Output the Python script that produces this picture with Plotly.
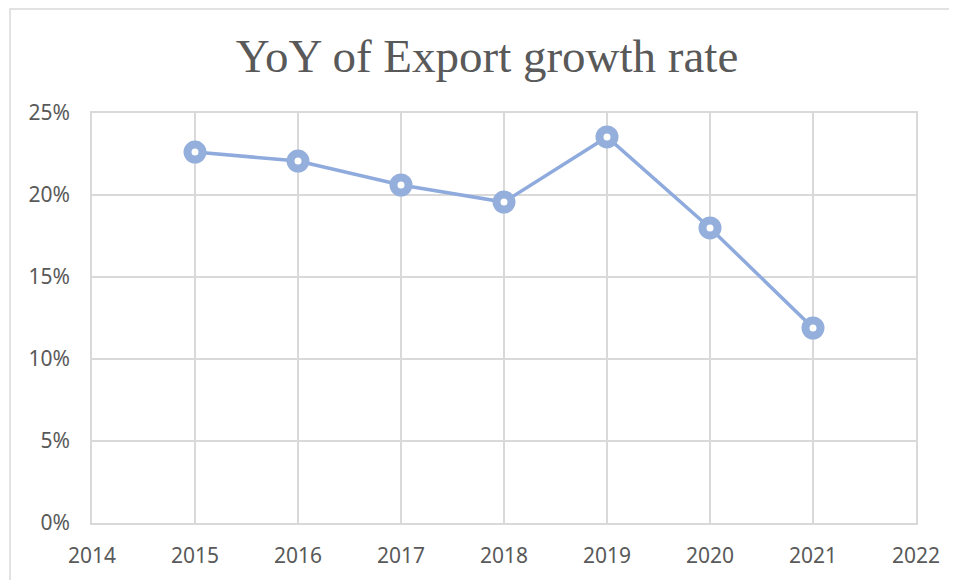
import plotly.graph_objects as go

years = [2015, 2016, 2017, 2018, 2019, 2020, 2021]
yoy_growth = [0.2262, 0.2207, 0.2061, 0.1957, 0.2354, 0.1799, 0.1189]
x_ticks = [2014, 2015, 2016, 2017, 2018, 2019, 2020, 2021, 2022]
y_ticks = [0, 0.05, 0.10, 0.15, 0.20, 0.25]

# page body adds an 8px offset, so the figure is sized to fit the window
W, H = 949, 572
L, R, T, B = 84, 41, 105, 57

fig = go.Figure()

# line with thick ring markers (Excel style)
fig.add_trace(go.Scatter(
    x=years, y=yoy_growth, mode='lines+markers',
    line=dict(color='#8FAADC', width=3.5),
    marker=dict(symbol='circle', size=15, color='white',
                line=dict(color='#94AFDB', width=8)),
    showlegend=False,
))

# chart area border (left and top edges only show in the window)
fig.add_shape(type='rect', xref='paper', yref='paper',
              x0=(2 - L) / (W - L - R), x1=(W + 200 - L) / (W - L - R),
              y0=-(B + 200) / (H - T - B), y1=(H - B - 1) / (H - T - B),
              line=dict(color='#D9D9D9', width=1.5), layer='below')

fig.update_layout(
    width=W, height=H,
    margin=dict(l=L, r=R, t=T, b=B, autoexpand=False),
    paper_bgcolor='white', plot_bgcolor='white',
    title=dict(text='YoY of Export growth rate', x=479 / W, xref='container', xanchor='center',
               y=1 - 48 / H, yref='container', yanchor='middle',
               font=dict(family='Liberation Serif, DejaVu Serif, serif', size=47, color='#595959')),
    font=dict(family='Noto Sans, Open Sans, sans-serif', size=21, color='#595959'),
    xaxis=dict(range=[2014, 2022], tickvals=x_ticks, showgrid=True, gridcolor='#D9D9D9', gridwidth=1.5,
               zeroline=False, showline=True, linecolor='#D9D9D9', linewidth=1.5, mirror=True,
               ticks='', ticklabelstandoff=13, automargin=False),
    yaxis=dict(range=[0, 0.25], tickvals=y_ticks, tickformat='.0%', showgrid=True, gridcolor='#D9D9D9',
               gridwidth=1.5, zeroline=False, showline=True, linecolor='#D9D9D9', linewidth=1.5,
               mirror=True, ticks='', ticklabelstandoff=16, automargin=False),
)

fig.write_html("out.html")
